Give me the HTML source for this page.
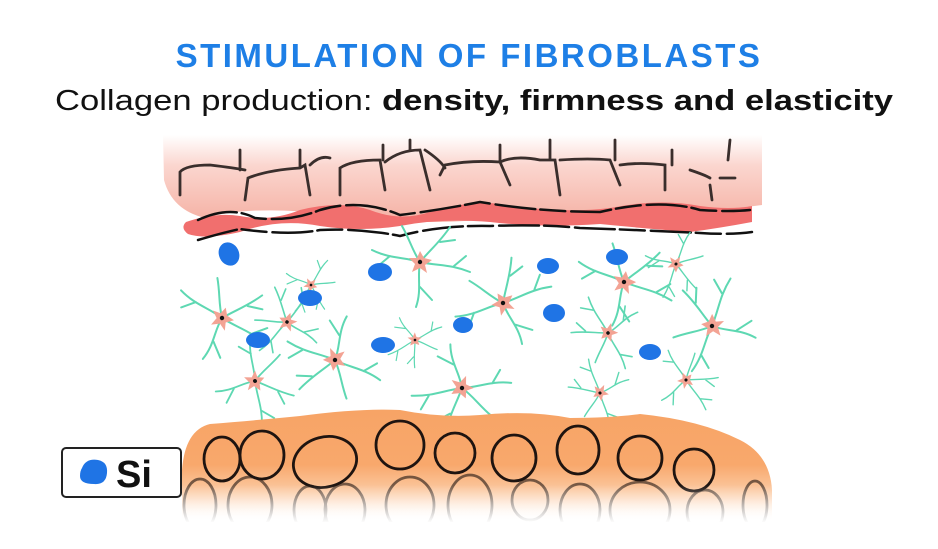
<!DOCTYPE html>
<html><head><meta charset="utf-8"><style>
html,body{margin:0;padding:0;background:#fff;width:938px;height:549px;overflow:hidden}
svg{display:block}
</style></head><body>
<svg width="938" height="549" viewBox="0 0 938 549" xmlns="http://www.w3.org/2000/svg">
<defs>
<linearGradient id="skin" x1="0" y1="0" x2="0" y2="1">
<stop offset="0" stop-color="#fff"/><stop offset="0.35" stop-color="#fbd6cf"/><stop offset="1" stop-color="#f5b1a4"/>
</linearGradient>
<linearGradient id="fat" x1="0" y1="0" x2="0" y2="1">
<stop offset="0" stop-color="#f7a466"/><stop offset="0.5" stop-color="#f8a86c"/><stop offset="0.8" stop-color="#fcd2b0"/><stop offset="1" stop-color="#fff"/>
</linearGradient>
<linearGradient id="fade" x1="0" y1="0" x2="0" y2="1">
<stop offset="0" stop-color="#fff" stop-opacity="0"/><stop offset="1" stop-color="#fff" stop-opacity="1"/>
</linearGradient>
<g id="fb">
<g fill="none" stroke="#5ed8b2" stroke-width="2" stroke-linecap="round">
<path d="M0 0 C-15 -5 -30 -3 -48 -12 M-30 -6 L-42 4"/>
<path d="M0 0 C10 -12 20 -20 30 -35 M20 -20 L35 -22"/>
<path d="M0 0 C18 4 30 2 50 10 M34 4 L46 -6"/>
<path d="M0 0 C-3 15 2 28 -4 45 M0 25 L12 38"/>
<path d="M0 0 C-8 -12 -10 -22 -18 -36"/>
</g>
<path d="M0 -11 L4 -4 L12 -2 L5 3 L7 11 L0 6 L-8 10 L-5 2 L-11 -4 L-3 -4Z" fill="#f3a394"/>
<circle r="2.2" fill="#111"/>
</g>
</defs>

<text x="469" y="67" text-anchor="middle" font-family="Liberation Sans, sans-serif" font-weight="bold" font-size="33" letter-spacing="2.5" fill="#1e7fe6">STIMULATION OF FIBROBLASTS</text>
<text x="474" y="110" text-anchor="middle" font-family="Liberation Sans, sans-serif" font-size="29" fill="#111" textLength="838" lengthAdjust="spacingAndGlyphs">Collagen production: <tspan font-weight="bold">density, firmness and elasticity</tspan></text>

<!-- skin -->
<path d="M163 135 L762 135 L762 205 Q700 214 640 210 Q560 212 480 220 Q400 226 330 214 Q250 205 205 218 Q172 210 164 180 Z" fill="url(#skin)"/>
<g fill="none" stroke="#3a2e2c" stroke-width="2.8" stroke-linecap="round">
<path d="M180 195 L180 172 Q186 165 210 165 Q235 168 245 170 M240 150 L240 170"/>
<path d="M245 200 L248 178 Q268 170 300 168 L305 165 L310 195 M300 150 L300 168"/>
<path d="M310 165 Q320 155 330 158 M340 195 L340 168 Q352 160 380 160 L385 190 M383 145 L383 160"/>
<path d="M385 162 Q400 150 420 150 L430 190 M425 150 Q440 160 445 168 M410 140 L410 150"/>
<path d="M440 175 L445 165 Q470 160 500 162 L510 185 M500 145 L500 162"/>
<path d="M500 162 Q515 155 540 160 L555 160 L560 195 M550 140 L550 160"/>
<path d="M560 160 Q590 158 610 160 L620 185 M615 140 L615 160"/>
<path d="M620 165 Q640 162 665 165 L665 190 M672 150 L672 165 M690 170 Q705 175 710 178 M710 185 L712 200"/>
<path d="M720 178 L735 178 M730 140 L728 160"/>
</g>
<!-- red band -->
<path d="M186 222 Q215 212 240 216 Q270 222 300 210 Q340 200 370 210 Q400 222 430 212 Q470 200 500 204 Q560 214 610 208 Q660 198 700 206 Q730 210 752 206 L752 222 Q720 228 690 232 Q640 228 600 224 Q540 228 490 222 Q440 218 400 226 Q360 232 320 226 Q280 218 240 232 Q205 240 188 234 Q180 228 186 222Z" fill="#f16f6e"/>
<g fill="none" stroke="#111" stroke-width="2.5" stroke-linecap="round" stroke-dasharray="40 5 25 6">
<path d="M198 220 Q230 205 255 218 Q290 222 320 210 Q360 198 400 215 Q440 210 480 202 Q540 212 600 212 Q660 198 700 210 Q730 212 750 210"/>
<path d="M198 240 Q225 232 240 229 Q290 236 320 230 Q360 228 400 236 Q440 225 490 226 Q540 224 580 228 Q640 230 700 233 Q730 235 752 232"/>
</g>

<!-- fibroblasts -->
<use href="#fb" transform="translate(420,262)"/>
<use href="#fb" transform="translate(222,318) rotate(20)"/>
<use href="#fb" transform="translate(287,322) rotate(-60) scale(0.8)"/>
<use href="#fb" transform="translate(311,285) rotate(110) scale(0.6)"/>
<use href="#fb" transform="translate(335,360) rotate(190)"/>
<use href="#fb" transform="translate(255,381) rotate(70) scale(0.9)"/>
<use href="#fb" transform="translate(415,340) rotate(140) scale(0.6)"/>
<use href="#fb" transform="translate(503,303) rotate(-30)"/>
<use href="#fb" transform="translate(462,388) rotate(160)"/>
<use href="#fb" transform="translate(624,282) rotate(10)"/>
<use href="#fb" transform="translate(676,264) rotate(100) scale(0.7)"/>
<use href="#fb" transform="translate(608,333) rotate(230) scale(0.8)"/>
<use href="#fb" transform="translate(712,326) rotate(-80)"/>
<use href="#fb" transform="translate(686,380) rotate(45) scale(0.7)"/>
<use href="#fb" transform="translate(600,393) rotate(-120) scale(0.7)"/>

<!-- silicon blobs -->
<g fill="#1f74e5">
<ellipse cx="229" cy="254" rx="10" ry="12" transform="rotate(-25 229 254)"/>
<ellipse cx="380" cy="272" rx="12" ry="9"/>
<ellipse cx="310" cy="298" rx="12" ry="8"/>
<ellipse cx="258" cy="340" rx="12" ry="8"/>
<ellipse cx="383" cy="345" rx="12" ry="8"/>
<ellipse cx="463" cy="325" rx="10" ry="8"/>
<ellipse cx="548" cy="266" rx="11" ry="8"/>
<ellipse cx="617" cy="257" rx="11" ry="8"/>
<ellipse cx="554" cy="313" rx="11" ry="9"/>
<ellipse cx="650" cy="352" rx="11" ry="8"/>
</g>

<!-- fat -->
<path d="M182 470 Q185 430 210 424 Q260 420 300 416 Q360 408 400 410 Q440 418 480 415 Q530 410 570 418 Q610 418 640 414 Q700 420 740 440 Q770 455 772 490 L772 520 L182 520 Z" fill="url(#fat)"/>
<g fill="none" stroke="#1e1410" stroke-width="2.8">
<ellipse cx="222" cy="459" rx="18" ry="22"/>
<ellipse cx="262" cy="455" rx="22" ry="24"/>
<ellipse cx="325" cy="462" rx="32" ry="25" transform="rotate(-15 325 462)"/>
<ellipse cx="400" cy="445" rx="24" ry="24"/>
<ellipse cx="455" cy="453" rx="20" ry="20"/>
<ellipse cx="514" cy="458" rx="22" ry="23"/>
<ellipse cx="578" cy="450" rx="21" ry="24"/>
<ellipse cx="640" cy="458" rx="22" ry="22"/>
<ellipse cx="694" cy="470" rx="20" ry="21"/>
<g opacity="0.6">
<ellipse cx="200" cy="505" rx="16" ry="26"/>
<ellipse cx="250" cy="505" rx="22" ry="28"/>
<ellipse cx="310" cy="510" rx="16" ry="24"/>
<ellipse cx="345" cy="510" rx="20" ry="26"/>
<ellipse cx="410" cy="505" rx="24" ry="28"/>
<ellipse cx="470" cy="505" rx="22" ry="30"/>
<ellipse cx="530" cy="500" rx="18" ry="20"/>
<ellipse cx="580" cy="510" rx="20" ry="26"/>
<ellipse cx="640" cy="510" rx="30" ry="28"/>
<ellipse cx="705" cy="512" rx="18" ry="22"/>
<ellipse cx="755" cy="505" rx="12" ry="24"/>
</g>
</g>
<rect x="175" y="485" width="610" height="38" fill="url(#fade)"/>
<rect x="170" y="522" width="620" height="27" fill="#fff"/>

<!-- Si label -->
<rect x="62" y="448" width="119" height="49" rx="4" fill="#fff" stroke="#222" stroke-width="2"/>
<path d="M82 468 Q86 458 98 460 Q108 462 107 473 Q106 485 94 484 Q80 484 80 476 Q80 471 82 468Z" fill="#1f74e5"/>
<text x="116" y="487" font-family="Liberation Sans, sans-serif" font-weight="bold" font-size="38" fill="#111">Si</text>
</svg>
</body></html>
